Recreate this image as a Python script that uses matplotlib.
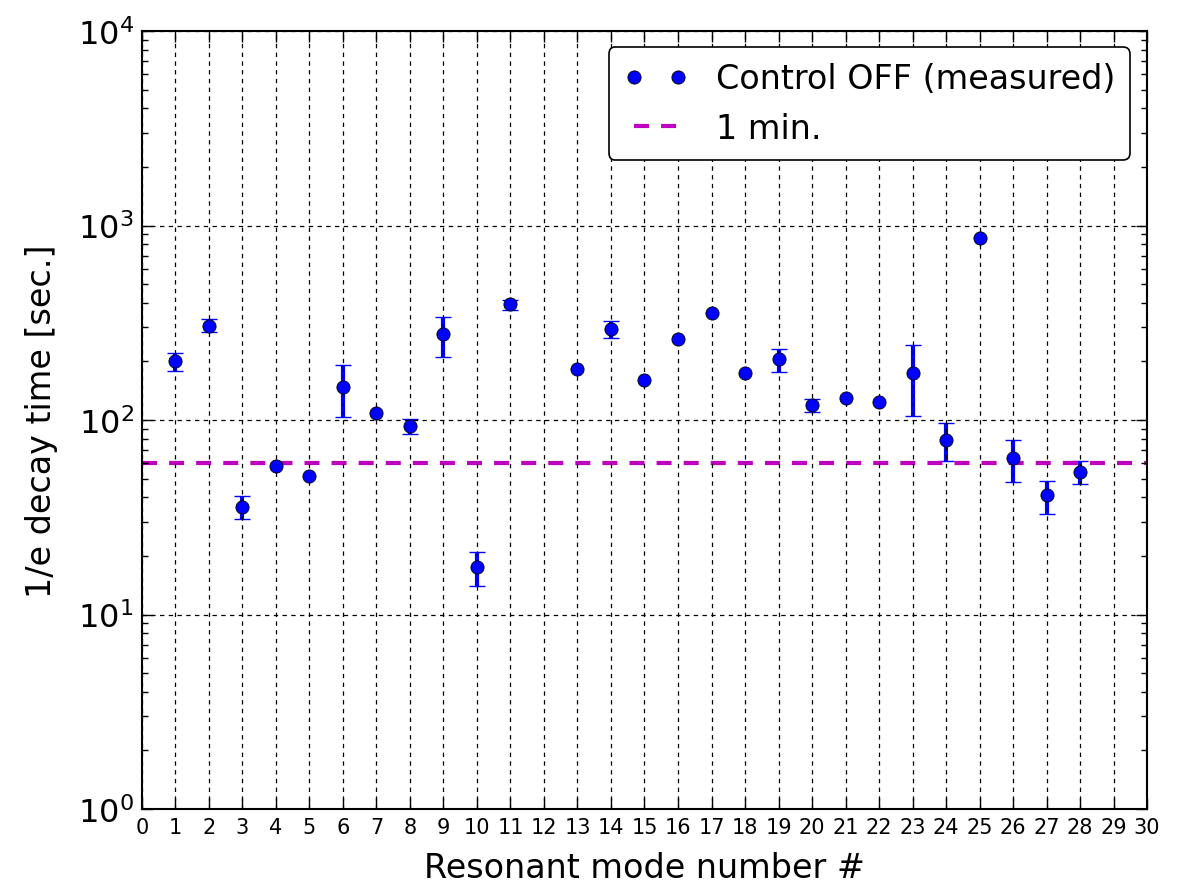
import numpy as np
import matplotlib
matplotlib.use("Agg")
import matplotlib.pyplot as plt

# ---- data ----
modes = [1, 2, 3, 4, 5, 6, 7, 8, 9, 10, 11, 13, 14, 15, 16, 17, 18, 19, 20,
         21, 22, 23, 24, 25, 26, 27, 28]
decay = [200, 305, 35.6, 58, 51.7, 148, 109, 93, 276, 17.5, 395, 182, 294,
         161, 260, 356, 174, 206, 119, 130, 124, 174, 79, 865, 63.5, 41, 54.2]
err_low = [178, 283, 31, 58, 51.7, 104, 109, 85, 211, 14, 367, 182, 265,
           161, 260, 356, 174, 177, 110, 130, 124, 105, 61.5, 865, 48, 33, 46.7]
err_high = [222, 329, 40.6, 58, 51.7, 192, 109, 101, 340, 21, 415, 182, 324,
            161, 260, 356, 174, 233, 128, 130, 124, 243, 97, 865, 78.5, 48.7, 61.2]
one_minute = 60
xticks = list(range(0, 31))

# ---- figure ----
fig = plt.figure(figsize=(11.89, 8.87), dpi=100)
ax = fig.add_axes([0.1194, 0.0868, 0.8453, 0.8771])

m = np.array(modes, dtype=float)
v = np.array(decay, dtype=float)
lo = np.array(err_low, dtype=float)
hi = np.array(err_high, dtype=float)
has_err = (hi - lo) > 0

ax.errorbar(m[has_err], v[has_err],
            yerr=[v[has_err] - lo[has_err], hi[has_err] - v[has_err]],
            fmt='none', ecolor='blue', elinewidth=3, capsize=5.8,
            capthick=1, zorder=2)
ax.plot(m, v, 'o', color='blue', markersize=9.5, markeredgecolor='black',
        markeredgewidth=0.6, label='Control OFF (measured)', zorder=3)
ax.axhline(one_minute, color='m', lw=3, linestyle=(0, (3.6, 2.9)),
           label='1 min.', zorder=2.5)

ax.set_yscale('log')
ax.set_xlim(0, 30)
ax.set_ylim(1, 1e4)
ax.set_xticks(xticks)
ax.set_xticklabels([str(t) for t in xticks], fontsize=15)
ax.tick_params(axis='y', which='major', labelsize=23)
ax.tick_params(which='major', direction='in', length=8, width=1,
               top=True, right=True, pad=6)
ax.tick_params(which='minor', direction='in', length=4, width=1,
               top=True, right=True)
ax.tick_params(axis='x', which='minor', bottom=False, top=False)

for s in ax.spines.values():
    s.set_linewidth(1.5)

ax.set_axisbelow(False)
ax.grid(True, which='major', color='black', linestyle=(0, (3.5, 3.5)),
        linewidth=0.9)

ax.set_xlabel('Resonant mode number #', fontsize=24, labelpad=10)
ax.set_ylabel('1/e decay time [sec.]', fontsize=24, labelpad=14)

leg = ax.legend(loc='upper right', bbox_to_anchor=(0.983, 0.979),
                borderaxespad=0, numpoints=2, fontsize=24, fancybox=True,
                handlelength=1.92, handletextpad=0.84, borderpad=0.45,
                framealpha=1)
leg.get_frame().set_edgecolor('black')
leg.get_frame().set_linewidth(1.2)

fig.savefig('out.png', dpi=100)
